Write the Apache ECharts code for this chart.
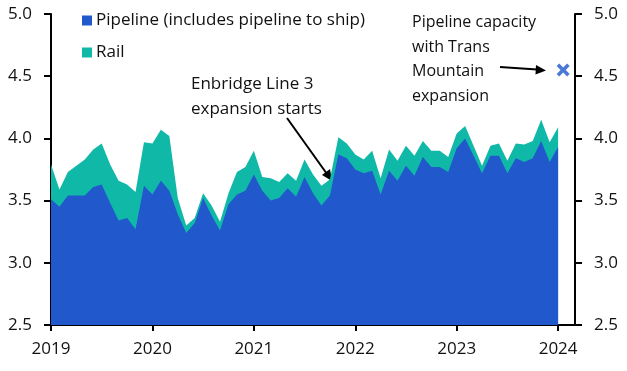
<!DOCTYPE html>
<html><head><meta charset="utf-8">
<script src="https://cdn.jsdelivr.net/npm/echarts@6/dist/echarts.min.js"></script>
<style>html,body{margin:0;padding:0;background:#fff}#c{width:627px;height:371px}</style>
</head><body><div id="c"></div>
<script>
// monthly, Jan 2019 .. Jan 2024 (index 0 = Jan 2019)
const months = Array.from({length: 61}, (_, i) => i);
const pipeline = [3.51,3.45,3.54,3.54,3.54,3.61,3.63,3.48,3.34,3.36,3.27,3.62,
  3.55,3.66,3.58,3.39,3.24,3.32,3.52,3.38,3.26,3.47,3.55,3.58,
  3.71,3.58,3.50,3.52,3.60,3.53,3.69,3.56,3.46,3.54,3.87,3.84,
  3.75,3.72,3.74,3.55,3.74,3.66,3.78,3.70,3.85,3.77,3.77,3.73,
  3.92,4.00,3.86,3.72,3.86,3.86,3.72,3.84,3.81,3.84,3.98,3.81,
  3.93];
const rail = [0.28,0.14,0.19,0.24,0.29,0.30,0.33,0.31,0.32,0.27,0.30,0.35,
  0.41,0.41,0.44,0.13,0.06,0.04,0.04,0.08,0.07,0.09,0.18,0.19,
  0.19,0.11,0.18,0.13,0.12,0.13,0.14,0.15,0.16,0.13,0.14,0.12,
  0.12,0.11,0.16,0.13,0.17,0.16,0.16,0.16,0.13,0.13,0.13,0.12,
  0.12,0.10,0.08,0.06,0.08,0.10,0.10,0.12,0.14,0.14,0.17,0.16,
  0.16];
const yearTicks = [0,12,24,36,48,60];
const yearLabels = ['2019','2020','2021','2022','2023','2024'];
const transMountain = [[60.6, 4.55]];

const BLUE = '#2158CC', TEAL = '#10B8A8', TXT = '#111';
const pipePts = months.map((m, i) => [m, pipeline[i]]);
const totalPts = months.map((m, i) => [m, +(pipeline[i] + rail[i]).toFixed(3)]);

const yAxisCommon = {
  type: 'value', min: 2.5, max: 5.0, interval: 0.5,
  axisLine: {show: true, lineStyle: {color: '#000', width: 2}},
  axisTick: {show: true, length: 7, lineStyle: {color: '#000', width: 2}},
  splitLine: {show: false},
  axisLabel: {color: TXT, fontFamily: 'Open Sans', fontSize: 17, margin: 19, formatter: v => v.toFixed(1)}
};

const chart = echarts.init(document.getElementById('c'), null, {renderer: 'canvas'});
chart.setOption({
  animation: false,
  backgroundColor: '#fff',
  grid: {left: 51, right: 52, top: 14, bottom: 46, containLabel: false},
  legend: {
    orient: 'vertical', left: 77, top: 7, itemGap: 15,
    itemWidth: 10, itemHeight: 10, icon: 'rect',
    textStyle: {color: TXT, fontFamily: 'Open Sans', fontSize: 17, padding: [0, 0, 0, -1]},
    data: ['Pipeline (includes pipeline to ship)', 'Rail']
  },
  xAxis: {
    type: 'value', min: 0, max: 62,
    axisLine: {show: true, onZero: false, lineStyle: {color: '#000', width: 2}},
    axisTick: {show: true, length: 6, customValues: yearTicks, lineStyle: {color: '#000', width: 2}},
    splitLine: {show: false},
    axisLabel: {customValues: yearTicks, color: TXT, fontFamily: 'Open Sans', fontSize: 17, margin: 16,
      formatter: v => yearLabels[yearTicks.indexOf(v)] || ''}
  },
  yAxis: [Object.assign({position: 'left'}, yAxisCommon),
          Object.assign({position: 'right'}, yAxisCommon)],
  series: [
    {name: 'Rail', type: 'line', data: totalPts, showSymbol: false, symbol: 'none',
     lineStyle: {width: 0}, itemStyle: {color: TEAL},
     areaStyle: {color: TEAL, opacity: 1, origin: 'start'}, z: 2},
    {name: 'Pipeline (includes pipeline to ship)', type: 'line', data: pipePts, showSymbol: false, symbol: 'none',
     lineStyle: {width: 0}, itemStyle: {color: BLUE},
     areaStyle: {color: BLUE, opacity: 1, origin: 'start'}, z: 3},
    {name: 'Trans Mountain', type: 'scatter', data: transMountain,
     symbol: 'path://M0,4 L4,0 L10,6 L16,0 L20,4 L14,10 L20,16 L16,20 L10,14 L4,20 L0,16 L6,10 Z',
     symbolSize: 13, itemStyle: {color: BLUE}, z: 5}
  ],
  graphic: [
    {type: 'text', left: 191, top: 72, style: {text: 'Enbridge Line 3\nexpansion starts', fill: TXT,
      font: '17px "Open Sans"', lineHeight: 25}},
    {type: 'line', shape: {x1: 287, y1: 118, x2: 327, y2: 174}, style: {stroke: '#000', lineWidth: 2}},
    {type: 'polygon', shape: {points: [[332, 181], [322, 175], [330, 169]]}, style: {fill: '#000'}},
    {type: 'text', left: 412, top: 10, style: {text: 'Pipeline capacity\nwith Trans\nMountain\nexpansion', fill: TXT,
      font: '16px "Open Sans"', lineHeight: 24.7}},
    {type: 'line', shape: {x1: 500, y1: 67, x2: 537, y2: 69.5}, style: {stroke: '#000', lineWidth: 2}},
    {type: 'polygon', shape: {points: [[546, 70.5], [536, 65], [535.5, 74.5]]}, style: {fill: '#000'}}
  ]
});
</script></body></html>
